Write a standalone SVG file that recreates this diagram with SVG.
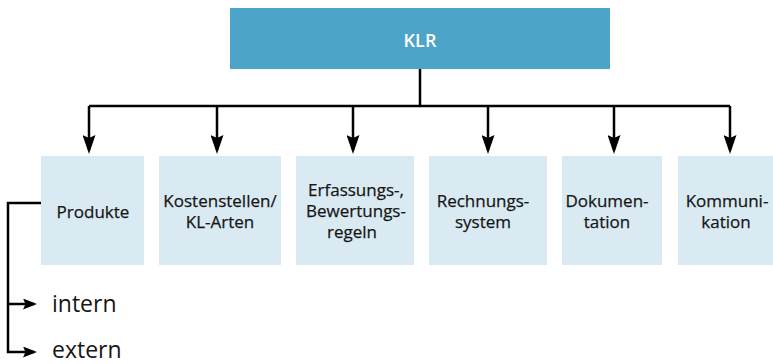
<svg xmlns="http://www.w3.org/2000/svg" width="773" height="364" viewBox="0 0 773 364">
<style>
.top{fill:#4ca5c8}
.box{fill:#d9eaf3}
.lbl{font-family:"Open Sans","Noto Sans","Liberation Sans",sans-serif;font-size:17px;fill:#161616;text-anchor:middle;stroke:#161616;stroke-width:0.25}
.klr{font-family:"Open Sans","Noto Sans","Liberation Sans",sans-serif;font-size:18px;font-weight:600;fill:#ffffff;text-anchor:middle}
.big{font-family:"Open Sans","Noto Sans","Liberation Sans",sans-serif;font-size:23px;fill:#161616}
.con{fill:none;stroke:#000;stroke-width:2.5}
</style>
<defs>
<marker id="ah" markerUnits="userSpaceOnUse" viewBox="0 0 19 13" refX="15" refY="6.5" markerWidth="19" markerHeight="13" orient="auto">
<path d="M0,0 L19,6.5 L0,13 L3,6.5 Z" fill="#000"/>
</marker>
<marker id="ahs" markerUnits="userSpaceOnUse" viewBox="0 0 14 11" refX="11" refY="5.5" markerWidth="14" markerHeight="11" orient="auto">
<path d="M0,0 L14,5.5 L0,11 L2.5,5.5 Z" fill="#000"/>
</marker>
</defs>
<g id="node-klr">
<rect class="top" x="230" y="8" width="380" height="61"/>
<text class="klr" x="420" y="47">KLR</text>
</g>
<g id="node-produkte">
<rect class="box" x="41" y="156" width="103" height="109"/>
<text class="lbl" x="93" y="218">Produkte</text>
</g>
<g id="node-kostenstellen">
<rect class="box" x="159" y="156" width="122" height="109"/>
<text class="lbl" x="220" y="207">Kostenstellen/</text>
<text class="lbl" x="220" y="228">KL-Arten</text>
</g>
<g id="node-erfassung">
<rect class="box" x="296" y="156" width="118" height="109"/>
<text class="lbl" x="356" y="195.5">Erfassungs-,</text>
<text class="lbl" x="356" y="216.5">Bewertungs-</text>
<text class="lbl" x="352" y="237.5">regeln</text>
</g>
<g id="node-rechnungssystem">
<rect class="box" x="429" y="156" width="118" height="109"/>
<text class="lbl" x="483" y="207">Rechnungs-</text>
<text class="lbl" x="483" y="228">system</text>
</g>
<g id="node-dokumentation">
<rect class="box" x="562" y="156" width="100" height="109"/>
<text class="lbl" x="607" y="207">Dokumen-</text>
<text class="lbl" x="607" y="228">tation</text>
</g>
<g id="node-kommunikation">
<rect class="box" x="678" y="156" width="95" height="109"/>
<text class="lbl" x="727" y="207">Kommuni-</text>
<text class="lbl" x="726" y="228">kation</text>
</g>
<g id="node-intern">
<text class="big" x="52" y="312">intern</text>
</g>
<g id="node-extern">
<text class="big" x="52" y="358">extern</text>
</g>
<g id="connectors">
<path class="con" d="M420,69 V106"/>
<path class="con" d="M89,106 H730"/>
<path class="con" d="M89,106 V150" marker-end="url(#ah)"/>
<path class="con" d="M217,106 V150" marker-end="url(#ah)"/>
<path class="con" d="M353,106 V150" marker-end="url(#ah)"/>
<path class="con" d="M488,106 V150" marker-end="url(#ah)"/>
<path class="con" d="M614,106 V150" marker-end="url(#ah)"/>
<path class="con" d="M730,106 V150" marker-end="url(#ah)"/>
<path class="con" d="M41,203 H8 V352 H34" marker-end="url(#ahs)"/>
<path class="con" d="M8,304 H34" marker-end="url(#ahs)"/>
</g>
</svg>
